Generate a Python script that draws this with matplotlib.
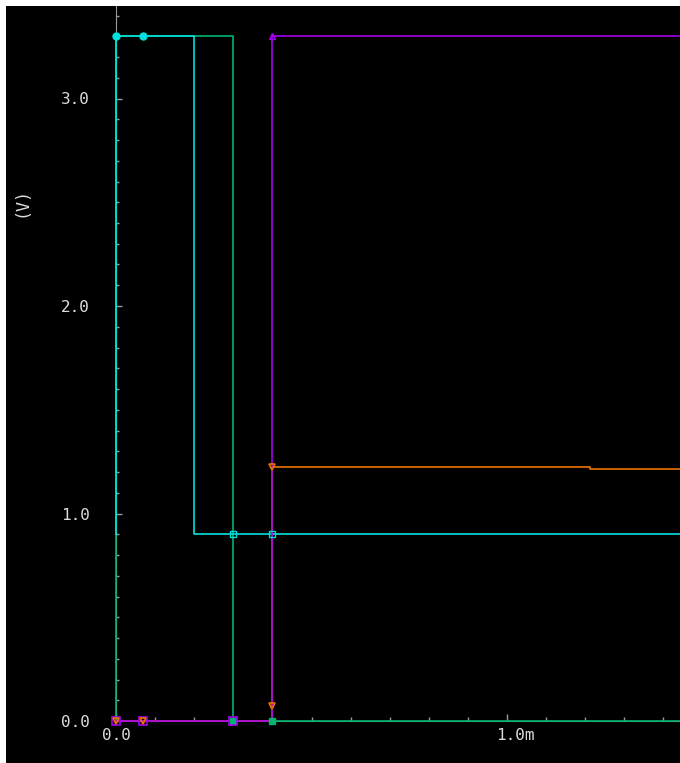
import matplotlib
matplotlib.use("Agg")
import matplotlib.pyplot as plt
import matplotlib.transforms as mtransforms
from matplotlib.ticker import FixedLocator

# transient waveforms, time in ms, voltage in V
t_cyan = [0.0, 0.0, 0.069, 0.2, 0.2, 0.3, 0.4, 1.45]
v_cyan = [0.9, 3.3, 3.3, 3.3, 0.9, 0.9, 0.9, 0.9]
cyan_marks_t = [0.0, 0.069]
cyan_marks_v = [3.3, 3.3]
cyan_sq_t = [0.3, 0.4]
cyan_sq_v = [0.9, 0.9]

t_green = [0.0, 0.0, 0.3, 0.3, 0.4, 1.45]
v_green = [0.0, 3.3, 3.3, 0.0, 0.0, 0.0]
green_marks_t = [0.3, 0.4]
green_marks_v = [0.0, 0.0]

t_purple = [0.0, 0.069, 0.3, 0.4, 0.4, 1.45]
v_purple = [0.0, 0.0, 0.0, 0.0, 3.3, 3.3]
purple_sq_t = [0.0, 0.069, 0.3]
purple_sq_v = [0.0, 0.0, 0.0]
purple_tri_t = [0.4]
purple_tri_v = [3.3]

t_orange = [0.0, 0.069, 0.4, 0.4, 0.4, 1.212, 1.212, 1.45]
v_orange = [0.0, 0.0, 0.0, 0.07, 1.222, 1.222, 1.215, 1.215]
orange_marks_t = [0.0, 0.069, 0.4, 0.4]
orange_marks_v = [0.0, 0.0, 0.07, 1.222]

y_major = [0.0, 1.0, 2.0, 3.0]
y_labels = ["0.0", "1.0", "2.0", "3.0"]
y_minor = [i / 10 for i in range(0, 35)]
x_major = [0.0, 1.0]
x_labels = ["0.0", "1.0m"]
x_minor = [i / 10 for i in range(0, 15)]

CYAN = "#00e0e0"
GREEN = "#00b470"
PURPLE = "#a400ec"
ORANGE = "#ec7400"
TXT = "#dcdcdc"
AX = "#9a9a9a"

W, H = 680, 763
fig = plt.figure(figsize=(W / 100, H / 100), dpi=100, facecolor="white")
ax = fig.add_axes([6 / W, 0, (W - 6) / W, (H - 6) / H])
ax.set_facecolor("black")

ax.set_xlim((6 - 116) / 391, (680 - 116) / 391)
ax.set_ylim((721 - 763) / 207.5, (721 - 6) / 207.5)

# traces
ax.plot(t_green, v_green, color=GREEN, lw=1.2, zorder=3)
ax.plot(t_cyan, v_cyan, color=CYAN, lw=1.2, zorder=4)
ax.plot(t_orange, v_orange, color=ORANGE, lw=1.2, zorder=4)
ax.plot(t_purple, v_purple, color=PURPLE, lw=1.2, zorder=5)

# point markers
ax.plot(green_marks_t, green_marks_v, "s", color=GREEN, ms=5, zorder=6)
ax.plot(cyan_marks_t, cyan_marks_v, "o", color=CYAN, ms=5, zorder=6)
ax.plot(cyan_sq_t, cyan_sq_v, "s", mfc="none", mec=CYAN, ms=4, mew=1, zorder=6)
ax.plot(purple_sq_t, purple_sq_v, "s", mfc="none", mec=PURPLE, ms=6, mew=1.2, zorder=6)
ax.plot(purple_tri_t, purple_tri_v, "^", mfc="none", mec=PURPLE, ms=5, mew=1, zorder=6)
ax.plot(orange_marks_t, orange_marks_v, "v", mfc="none", mec=ORANGE, ms=5, mew=1.2, zorder=7)

# axis lines through the origin
for side in ["top", "right"]:
    ax.spines[side].set_visible(False)
ax.spines["left"].set_position(("data", 0))
ax.spines["bottom"].set_position(("data", 0))
ax.spines["left"].set_color(AX)
ax.spines["bottom"].set_color(AX)
ax.spines["left"].set_bounds(0, ax.get_ylim()[1])
ax.spines["bottom"].set_bounds(0, ax.get_xlim()[1])
ax.spines["left"].set_zorder(1)
ax.spines["bottom"].set_zorder(1)

ax.yaxis.set_major_locator(FixedLocator(y_major))
ax.set_yticklabels(y_labels)
ax.yaxis.set_minor_locator(FixedLocator(y_minor))
ax.xaxis.set_major_locator(FixedLocator(x_major))
ax.set_xticklabels(x_labels)
ax.xaxis.set_minor_locator(FixedLocator(x_minor))

ax.tick_params(axis="y", which="major", direction="in", length=4, width=1,
               color=AX, labelcolor=TXT, pad=19, labelsize=11.5)
ax.tick_params(axis="y", which="minor", direction="in", length=2, width=1, color=AX)
ax.tick_params(axis="x", which="major", direction="in", length=5, width=1,
               color=AX, labelcolor=TXT, pad=5, labelsize=11.5)
ax.tick_params(axis="x", which="minor", direction="in", length=3, width=1, color=AX)

for lab in ax.get_xticklabels() + ax.get_yticklabels():
    lab.set_family("DejaVu Sans Mono")

# the unit suffix sits a little right of its tick
shift = mtransforms.ScaledTranslation(8 / 100, 0, fig.dpi_scale_trans)
xl = ax.get_xticklabels()[1]
xl.set_transform(xl.get_transform() + shift)

fig.text(22 / W, 1 - 202 / H, "(V)", rotation=90, color=TXT,
         fontsize=12, family="DejaVu Sans Mono", ha="center", va="center")

fig.savefig("out.png", dpi=100, facecolor="white")
